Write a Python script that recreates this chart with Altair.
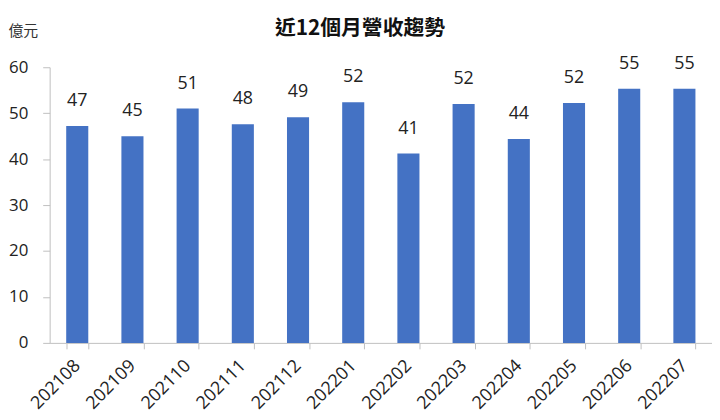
import altair as alt
import pandas as pd

months = ["202108", "202109", "202110", "202111", "202112", "202201",
          "202202", "202203", "202204", "202205", "202206", "202207"]
revenue = [47.2, 45.0, 51.0, 47.6, 49.1, 52.4, 41.2, 52.0, 44.4, 52.2, 55.3, 55.3]
y_ticks = [0, 10, 20, 30, 40, 50, 60]
title_text = "近12個月營收趨勢"
unit_text = "億元"

df = pd.DataFrame({"month": months, "revenue": revenue})

num_font = "Open Sans"
cjk_font = "Noto Sans CJK TC"

base = alt.Chart(df)

bars = base.mark_bar(color="#4472C4").encode(
    x=alt.X("month:N", sort=months,
            scale=alt.Scale(paddingInner=0.6, paddingOuter=0.3),
            axis=alt.Axis(title=None, labelAngle=-45, labelAlign="right",
                          labelBaseline="middle", labelFont=num_font,
                          labelFontSize=18, labelColor="#222222",
                          tickBand="extent", tickColor="#BFBFBF", tickSize=6,
                          domainColor="#BFBFBF", labelPadding=14)),
    y=alt.Y("revenue:Q", scale=alt.Scale(domain=[0, 60], nice=False),
            axis=alt.Axis(values=y_ticks, grid=False, title=unit_text,
                          titleAngle=0, titleX=-42, titleY=-37,
                          titleAlign="left", titleBaseline="middle",
                          titleFont=cjk_font, titleFontSize=15,
                          titleFontWeight="normal", titleColor="#333333",
                          labelFont=num_font, labelFontSize=17,
                          labelColor="#222222", labelPadding=15,
                          tickColor="#BFBFBF", tickSize=7,
                          domainColor="#BFBFBF")),
)

labels = base.mark_text(dy=-25, font=num_font, fontSize=18,
                        color="#222222", baseline="middle").encode(
    x=alt.X("month:N", sort=months),
    y=alt.Y("revenue:Q"),
    text=alt.Text("revenue:Q", format=".0f"),
)

chart = (bars + labels).properties(
    width=668, height=278,
    padding={"left": 42, "top": 58, "right": 0, "bottom": 74},
    autosize=alt.AutoSizeParams(type="none"),
    title=alt.Title(title_text, font=cjk_font, fontSize=21, fontWeight="bold",
                    color="#111111", anchor="middle", dx=-21, offset=-15),
).configure_view(stroke=None)

chart.save("out.html", embed_options={"renderer": "svg", "actions": False})
